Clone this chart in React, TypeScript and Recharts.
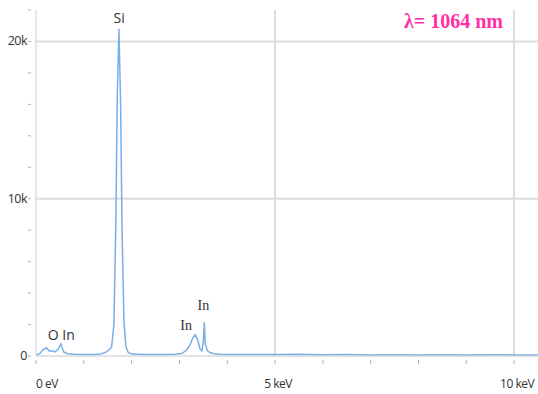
import { LineChart, Line, XAxis, YAxis, ReferenceLine, ReferenceDot } from "recharts"

// energy (keV) and counts
const energy = [
  0, 0.08, 0.14, 0.22, 0.28, 0.34, 0.4, 0.46, 0.52, 0.58, 0.66, 0.8, 1.0, 1.2, 1.35, 1.45, 1.52,
  1.58, 1.63, 1.67, 1.7, 1.735, 1.77, 1.8, 1.84, 1.88, 1.93, 2.0, 2.3, 2.6, 2.9, 3.05, 3.15, 3.22,
  3.28, 3.33, 3.38, 3.43, 3.47, 3.5, 3.52, 3.54, 3.58, 3.64, 3.72, 3.85, 4.2, 4.6, 5.0, 5.5, 6.0,
  6.5, 7.0, 7.5, 8.0, 8.5, 9.0, 9.5, 10.0, 10.5,
]
const counts = [
  60, 150, 380, 520, 300, 330, 260, 420, 760, 260, 150, 110, 90, 100, 130, 220, 380,
  550, 2000, 8500, 16500, 20800, 16000, 8000, 2200, 600, 220, 120, 90, 100, 110, 160, 380, 700,
  1150, 1350, 1050, 450, 320, 900, 2150, 800, 350, 220, 150, 110, 90, 100, 90, 110, 80,
  90, 70, 80, 70, 80, 70, 80, 70, 70,
]

const peakLabels = ["O", "In", "Si", "In", "In"]
const peakLabelX = [0.36, 0.68, 1.74, 3.14, 3.5]
const peakLabelY = [1350, 1350, 21500, 1950, 3250]
const peakLabelFont = ["Open Sans", "Open Sans", "Open Sans", "Liberation Serif", "Liberation Serif"]

const xTicks = [0, 1, 2, 3, 4, 5, 6, 7, 8, 9, 10]
const xTickLabels: Record<number, string> = { 0: "0 eV", 5: "5 keV", 10: "10 keV" }
const yTicks = [0, 2000, 4000, 6000, 8000, 10000, 12000, 14000, 16000, 18000, 20000, 22000]
const yTickLabels: Record<number, string> = { 0: "0", 10000: "10k", 20000: "20k" }
const gridY = [10000, 20000]
const gridX = [5, 10]

const data = energy.map((e, i) => ({ e, c: counts[i] }))

const XTick = (props: any) => {
  const { x, y, payload } = props
  const label = xTickLabels[payload.value]
  return (
    <g>
      <line x1={x} y1={y - 4} x2={x} y2={y} stroke="#b0b0b0" strokeWidth={1} />
      {label && (
        <text
          x={payload.value === 0 ? x : x + 3}
          y={y + 24}
          textAnchor={payload.value === 0 ? "start" : "middle"}
          fontFamily="Open Sans"
          fontSize={12}
          fill="#333"
          style={{ letterSpacing: "-0.5px" }}
        >
          {label}
        </text>
      )}
    </g>
  )
}

const YTick = (props: any) => {
  const { x, y, payload } = props
  const label = yTickLabels[payload.value]
  return (
    <g>
      <line x1={x} y1={y} x2={x + 3} y2={y} stroke="#b0b0b0" strokeWidth={1} />
      {label && (
        <text x={x - 1} y={y + 4} textAnchor="end" fontFamily="Open Sans" fontSize={12.5} fill="#333" style={{ letterSpacing: "-0.5px" }}>
          {label}
        </text>
      )}
    </g>
  )
}

export default function App() {
  return (
    <div style={{ position: "absolute", left: 0, top: 0, width: 538, height: 394, background: "#fff" }}>
      <LineChart width={538} height={394} data={data} margin={{ top: 10, right: 0, left: 0, bottom: 0 }}>
        {gridY.map((v) => (
          <ReferenceLine key={"gy" + v} y={v} stroke="#dcdcdc" strokeWidth={2} />
        ))}
        {gridX.map((v) => (
          <ReferenceLine key={"gx" + v} x={v} stroke="#dcdcdc" strokeWidth={2} />
        ))}
        <XAxis
          dataKey="e"
          type="number"
          domain={[0, 10.5]}
          ticks={xTicks}
          interval={0}
          tickLine={false}
          axisLine={{ stroke: "#c8c8c8" }}
          tick={<XTick />}
          height={38}
        />
        <YAxis
          type="number"
          domain={[0, 22000]}
          ticks={yTicks}
          interval={0}
          tickLine={false}
          axisLine={{ stroke: "#d0d0d0" }}
          tick={<YTick />}
          width={36}
        />
        <Line
          type="linear"
          dataKey="c"
          stroke="#78b0e6"
          strokeWidth={1.5}
          dot={false}
          isAnimationActive={false}
        />
        {peakLabels.map((t, i) => (
          <ReferenceDot
            key={"pl" + i}
            x={peakLabelX[i]}
            y={peakLabelY[i]}
            r={0}
            fill="none"
            stroke="none"
            label={(p: any) => (
              <text
                x={p.viewBox.x}
                y={p.viewBox.y + 5}
                textAnchor="middle"
                fontFamily={peakLabelFont[i]}
                fontSize={14}
                fill="#333"
              >
                {t}
              </text>
            )}
          />
        ))}
      </LineChart>
      <div
        style={{
          position: "absolute",
          left: 360,
          top: 10,
          width: 143,
          textAlign: "right",
          fontFamily: "Liberation Serif",
          fontWeight: "bold",
          fontSize: 20,
          color: "#ff2fa8",
        }}
      >
        λ= 1064 nm
      </div>
    </div>
  )
}
